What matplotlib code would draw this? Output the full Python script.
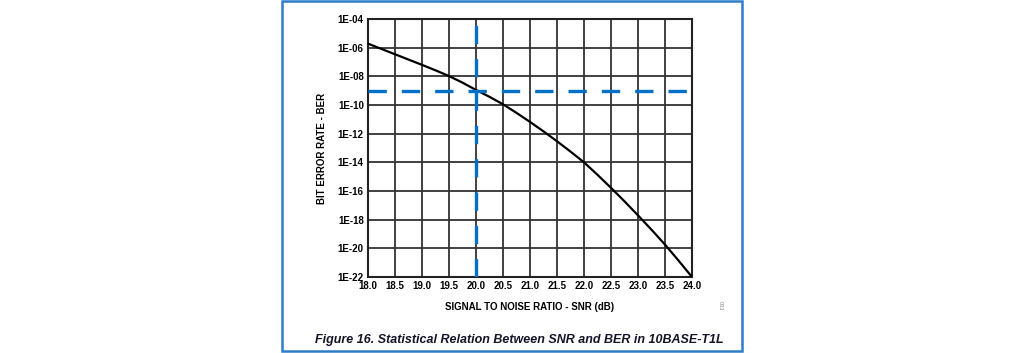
import numpy as np
import matplotlib
matplotlib.use("Agg")
import matplotlib.pyplot as plt
from matplotlib.patches import Rectangle

# SNR (dB) vs BER (log10)
snr = [18.0, 18.25, 18.5, 18.75, 19.0, 19.25, 19.5, 19.75, 20.0, 20.25, 20.5, 20.75,
       21.0, 21.25, 21.5, 21.75, 22.0, 22.25, 22.5, 22.75, 23.0, 23.25, 23.5, 23.75, 24.0]
ber_log = [-5.72, -6.09, -6.46, -6.83, -7.2, -7.58, -7.98, -8.44, -8.95, -9.43, -9.95, -10.55,
           -11.18, -11.84, -12.53, -13.25, -14.0, -14.87, -15.78, -16.72, -17.7, -18.7, -19.74, -20.85, -22.0]

x_ticks = [18.0, 18.5, 19.0, 19.5, 20.0, 20.5, 21.0, 21.5, 22.0, 22.5, 23.0, 23.5, 24.0]
y_exps = [-22, -20, -18, -16, -14, -12, -10, -8, -6, -4]

ref_snr = 20.0
ref_ber = 1e-9

caption = "Figure 16. Statistical Relation Between SNR and BER in 10BASE-T1L"

plt.rcParams["font.family"] = ["Liberation Sans", "DejaVu Sans"]

fig = plt.figure(figsize=(10.24, 3.53), dpi=100)

# blue frame around the figure panel
fig.patches.append(Rectangle((282 / 1024, 1 - 351 / 353), 460 / 1024, 350 / 353,
                             transform=fig.transFigure, fill=False,
                             edgecolor="#2f7dc8", linewidth=1.8))

ax = fig.add_axes([368 / 1024, 1 - 277 / 353, 324 / 1024, 258 / 353])
ax.set_yscale("log")
ax.set_xlim(18.0, 24.0)
ax.set_ylim(1e-22, 1e-4)

ax.set_xticks(x_ticks)
ax.set_xticklabels([f"{v:.1f}" for v in x_ticks], fontsize=7, fontweight="bold")
ax.set_yticks([10.0 ** e for e in y_exps])
ax.set_yticklabels([f"1E-{-e:02d}" for e in y_exps], fontsize=7, fontweight="bold")
ax.minorticks_off()
ax.tick_params(length=0, pad=3)
ax.grid(True, color="#333333", linewidth=1.3)
for s in ax.spines.values():
    s.set_linewidth(1.5)
    s.set_color("#222222")

ax.plot(snr, [10.0 ** v for v in ber_log], color="black", linewidth=1.6, zorder=3)

ax.axvline(ref_snr, color="#0070c8", linewidth=2.4, linestyle=(0, (5.5, 4.5)), zorder=4)
ax.axhline(ref_ber, color="#0070c8", linewidth=2.4, linestyle=(0, (5.5, 4.5)), zorder=4)

fig.text(530 / 1024, 1 - 307 / 353, "SIGNAL TO NOISE RATIO - SNR (dB)", fontsize=7,
         fontweight="bold", ha="center", va="center")
fig.text(322 / 1024, 1 - 148 / 353, "BIT ERROR RATE - BER", fontsize=7,
         fontweight="bold", ha="center", va="center", rotation=90)
fig.text(720 / 1024, 1 - 306 / 353, "033", fontsize=4, color="#888888",
         ha="center", va="center", rotation=270)
fig.text(519 / 1024, 1 - 340 / 353, caption, fontsize=9, fontweight="bold",
         fontstyle="italic", color="#141428", ha="center", va="center",
         family=["Liberation Sans Narrow", "Liberation Sans", "DejaVu Sans"])

fig.savefig("out.png", dpi=100, facecolor="white")
